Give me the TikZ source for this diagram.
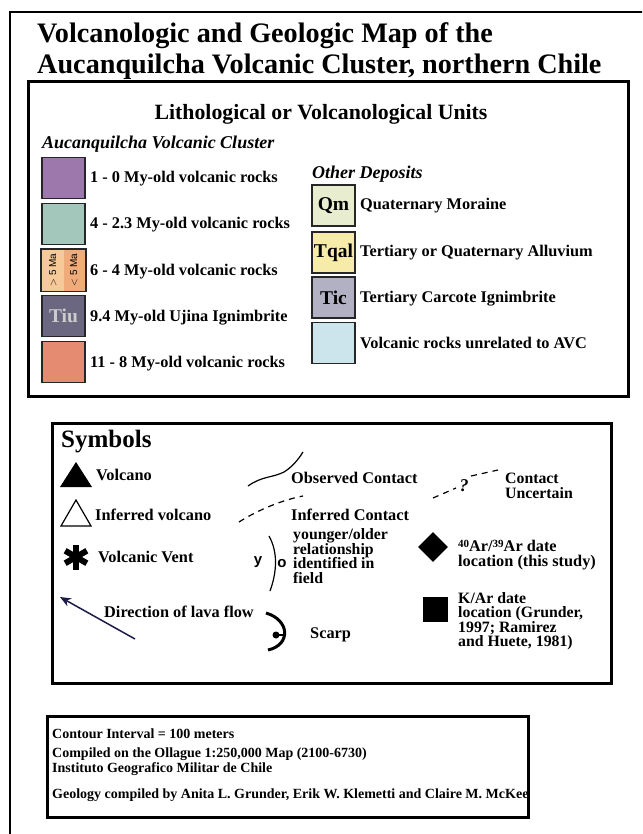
\documentclass[tikz,border=0pt]{standalone}
\usepackage{fontspec}
\setmainfont{Liberation Serif}
\setsansfont{Liberation Sans}
\usetikzlibrary{positioning}
\usetikzlibrary{arrows.meta}
\usetikzlibrary{shapes}

\definecolor{unitA}{HTML}{9D78AD}
\definecolor{unitB}{HTML}{A3C8BB}
\definecolor{unitCa}{HTML}{F6C999}
\definecolor{unitCb}{HTML}{EFAB79}
\definecolor{unitTiu}{HTML}{6C6781}
\definecolor{unitE}{HTML}{E48B72}
\definecolor{unitQm}{HTML}{E9EDCF}
\definecolor{unitTqal}{HTML}{F6EBA8}
\definecolor{unitTic}{HTML}{B2B0C3}
\definecolor{unitAVC}{HTML}{CCE4EB}
\definecolor{flow}{HTML}{1B1B48}

\tikzstyle{swatch} = [draw=black!85, line width=1.6pt, minimum width=43pt, minimum height=41pt, inner sep=0pt, font=\fontsize{19.5}{19.5}\selectfont\bfseries]
\tikzstyle{lbl} = [anchor=base west, inner sep=0pt, font=\fontsize{16.3}{16.3}\selectfont\bfseries]
\tikzstyle{multi} = [anchor=north west, inner sep=0pt, align=left, font=\fontsize{15.8}{14.6}\selectfont\bfseries]
\tikzstyle{frame} = [draw, line width=3pt]

\begin{document}
\begin{tikzpicture}[x=1pt,y=-1pt]

	\useasboundingbox (0,0) rectangle (642,834);
	\begin{scope}
	\clip (0,0) rectangle (642,834);
	\draw[line width=2.5pt] (10,12) rectangle (700,900);
	\end{scope}

	% title
	\node[anchor=base west, inner sep=0pt, font=\fontsize{28.2}{28.2}\selectfont\bfseries] (title1) at (37,43) {Volcanologic and Geologic Map of the};
	\node[anchor=base west, inner sep=0pt, font=\fontsize{28.2}{28.2}\selectfont\bfseries] (title2) at (37,74) {Aucanquilcha Volcanic Cluster, northern Chile};

	% units box
	\draw[frame] (28,82) rectangle (628,396);
	\node[anchor=base, inner sep=0pt, font=\fontsize{21.8}{21.8}\selectfont\bfseries] (unitshead) at (321,120) {Lithological or Volcanological Units};
	\node[anchor=base west, inner sep=0pt, font=\fontsize{18}{18}\selectfont\bfseries\itshape] (avchead) at (42,149) {Aucanquilcha Volcanic Cluster};

	\def\sx{63.5}
	\node[swatch, fill=unitA] (ua) at (\sx,178) {};
	\node[lbl] (la) at (90,183) {1 - 0 My-old volcanic rocks};
	\node[swatch, fill=unitB] (ub) at (\sx,224) {};
	\node[lbl] (lb) at (90,229) {4 - 2.3 My-old volcanic rocks};
	\node[swatch] (uc) at (\sx,270) {};
	\fill[unitCa] (uc.north west) rectangle (uc.south);
	\fill[unitCb] (uc.north) rectangle (uc.south east);
	\draw[black!85, line width=1.6pt] (uc.north west) rectangle (uc.south east);
	\node[rotate=90, inner sep=0pt, font=\sffamily\fontsize{10}{10}\selectfont] (ucold) at ([xshift=-10.5pt]uc.center) {$>$ 5 Ma};
	\node[rotate=90, inner sep=0pt, font=\sffamily\fontsize{10}{10}\selectfont] (ucyoung) at ([xshift=10.5pt]uc.center) {$<$ 5 Ma};
	\node[lbl] (lc) at (90,275) {6 - 4 My-old volcanic rocks};
	\node[swatch, fill=unitTiu, text=black!20] (ud) at (\sx,316) {Tiu};
	\node[lbl] (ld) at (90,321) {9.4 My-old Ujina Ignimbrite};
	\node[swatch, fill=unitE] (ue) at (\sx,362) {};
	\node[lbl] (le) at (90,367) {11 - 8 My-old volcanic rocks};

	\node[anchor=base west, inner sep=0pt, font=\fontsize{18}{18}\selectfont\bfseries\itshape] (otherhead) at (312,179) {Other Deposits};
	\def\ox{333.5}
	\node[swatch, fill=unitQm] (qm) at (\ox,205.5) {Qm};
	\node[lbl] (lqm) at (360,210) {Quaternary Moraine};
	\node[swatch, fill=unitTqal] (tqal) at (\ox,252.5) {Tqal};
	\node[lbl] (ltqal) at (360,256) {Tertiary or Quaternary Alluvium};
	\node[swatch, fill=unitTic] (tic) at (\ox,297.5) {Tic};
	\node[lbl] (ltic) at (360,302) {Tertiary Carcote Ignimbrite};
	\node[swatch, fill=unitAVC] (avc) at (\ox,343) {};
	\node[lbl] (lavc) at (360,348) {Volcanic rocks unrelated to AVC};

	% symbols box
	\draw[frame] (52,423) rectangle (611,683);
	\node[anchor=base west, inner sep=0pt, font=\fontsize{25}{25}\selectfont\bfseries] (symhead) at (61,447) {Symbols};

	\fill (60,487) -- (76,462) -- (92,487) -- cycle;
	\node[lbl] (lvolc) at (96,480) {Volcano};
	\draw[line width=1.2pt] (61,526) -- (76,500) -- (91,526) -- cycle;
	\node[lbl] (linf) at (95,520) {Inferred volcano};
	\foreach \ang in {90,30,150}
		\draw[line width=6pt] (76,557) ++(\ang:12.5) -- ++(\ang+180:25);
	\node[lbl] (lvent) at (98,562) {Volcanic Vent};

	\coordinate (flowtail) at (135,639);
	\coordinate (flowhead) at (60,597);
	\draw[flow, line width=1.5pt, -{Stealth[length=11pt,width=9pt]}] (flowtail) -- (flowhead);
	\node[lbl] (lflow) at (104,617) {Direction of lava flow};

	\draw[line width=1.2pt] (248,486) .. controls (262,476) and (272,478) .. (284,472) .. controls (292,467) and (298,460) .. (303,452);
	\node[lbl] (lobs) at (291,483) {Observed Contact};
	\draw[line width=1.2pt, dash pattern=on 6pt off 5pt] (239,522) .. controls (258,510) and (282,500) .. (303,496);
	\node[lbl] (linfc) at (291,520) {Inferred Contact};

	\draw[line width=1.2pt] (269,536) .. controls (278,552) and (277,572) .. (270,591);
	\node[inner sep=0pt, font=\sffamily\bfseries\fontsize{15}{15}\selectfont] (yy) at (258,562) {y};
	\node[inner sep=0pt, font=\sffamily\bfseries\fontsize{15}{15}\selectfont] (oo) at (282,564) {o};
	\node[multi] (lyo) at (293,528.5) {younger/older\\relationship\\identified in\\field};

	\draw[line width=3pt] (266,613) .. controls (290,620) and (291,645) .. (268,650);
	\fill (276,635) circle (3.5);
	\draw[line width=1.2pt] (276,635) -- (283,635);
	\node[lbl] (lscarp) at (310,638) {Scarp};

	\draw[line width=1.2pt, dash pattern=on 6pt off 5pt] (433,498) -- (456,488);
	\node[inner sep=0pt, font=\fontsize{18}{18}\selectfont\bfseries\itshape] (qmark) at (464,486) {?};
	\draw[line width=1.2pt, dash pattern=on 6pt off 5pt] (471,476) -- (498,470);
	\node[multi] (lunc) at (505,473) {Contact\\Uncertain};

	\node[diamond, fill, inner sep=0pt, minimum size=30pt] (ardate) at (433,547) {};
	\node[multi, font=\fontsize{16.3}{15.5}\selectfont\bfseries] (lar) at (458,539.5) {\raisebox{0.5ex}{\fontsize{11}{11}\selectfont 40}Ar/\raisebox{0.5ex}{\fontsize{11}{11}\selectfont 39}Ar date\\location (this study)};
	\node[fill, inner sep=0pt, minimum size=25pt] (kardate) at (435.5,609.5) {};
	\node[multi] (lkar) at (458,592) {K/Ar date\\location (Grunder,\\1997; Ramirez\\and Huete, 1981)};

	% notes box
	\draw[frame] (47,716) rectangle (528,817);
	\node[anchor=base west, inner sep=0pt, font=\fontsize{14}{14}\selectfont\bfseries] (note1) at (52,738) {Contour Interval = 100 meters};
	\node[anchor=north west, inner sep=0pt, align=left, font=\fontsize{14}{14.5}\selectfont\bfseries] (note2) at (52,748) {Compiled on the Ollague 1:250,000 Map (2100-6730)\\Instituto Geografico Militar de Chile};
	\node[anchor=base west, inner sep=0pt, font=\fontsize{14}{14}\selectfont\bfseries] (note3) at (52,798) {Geology compiled by Anita L. Grunder, Erik W. Klemetti and Claire M. McKee};

\end{tikzpicture}
\end{document}
